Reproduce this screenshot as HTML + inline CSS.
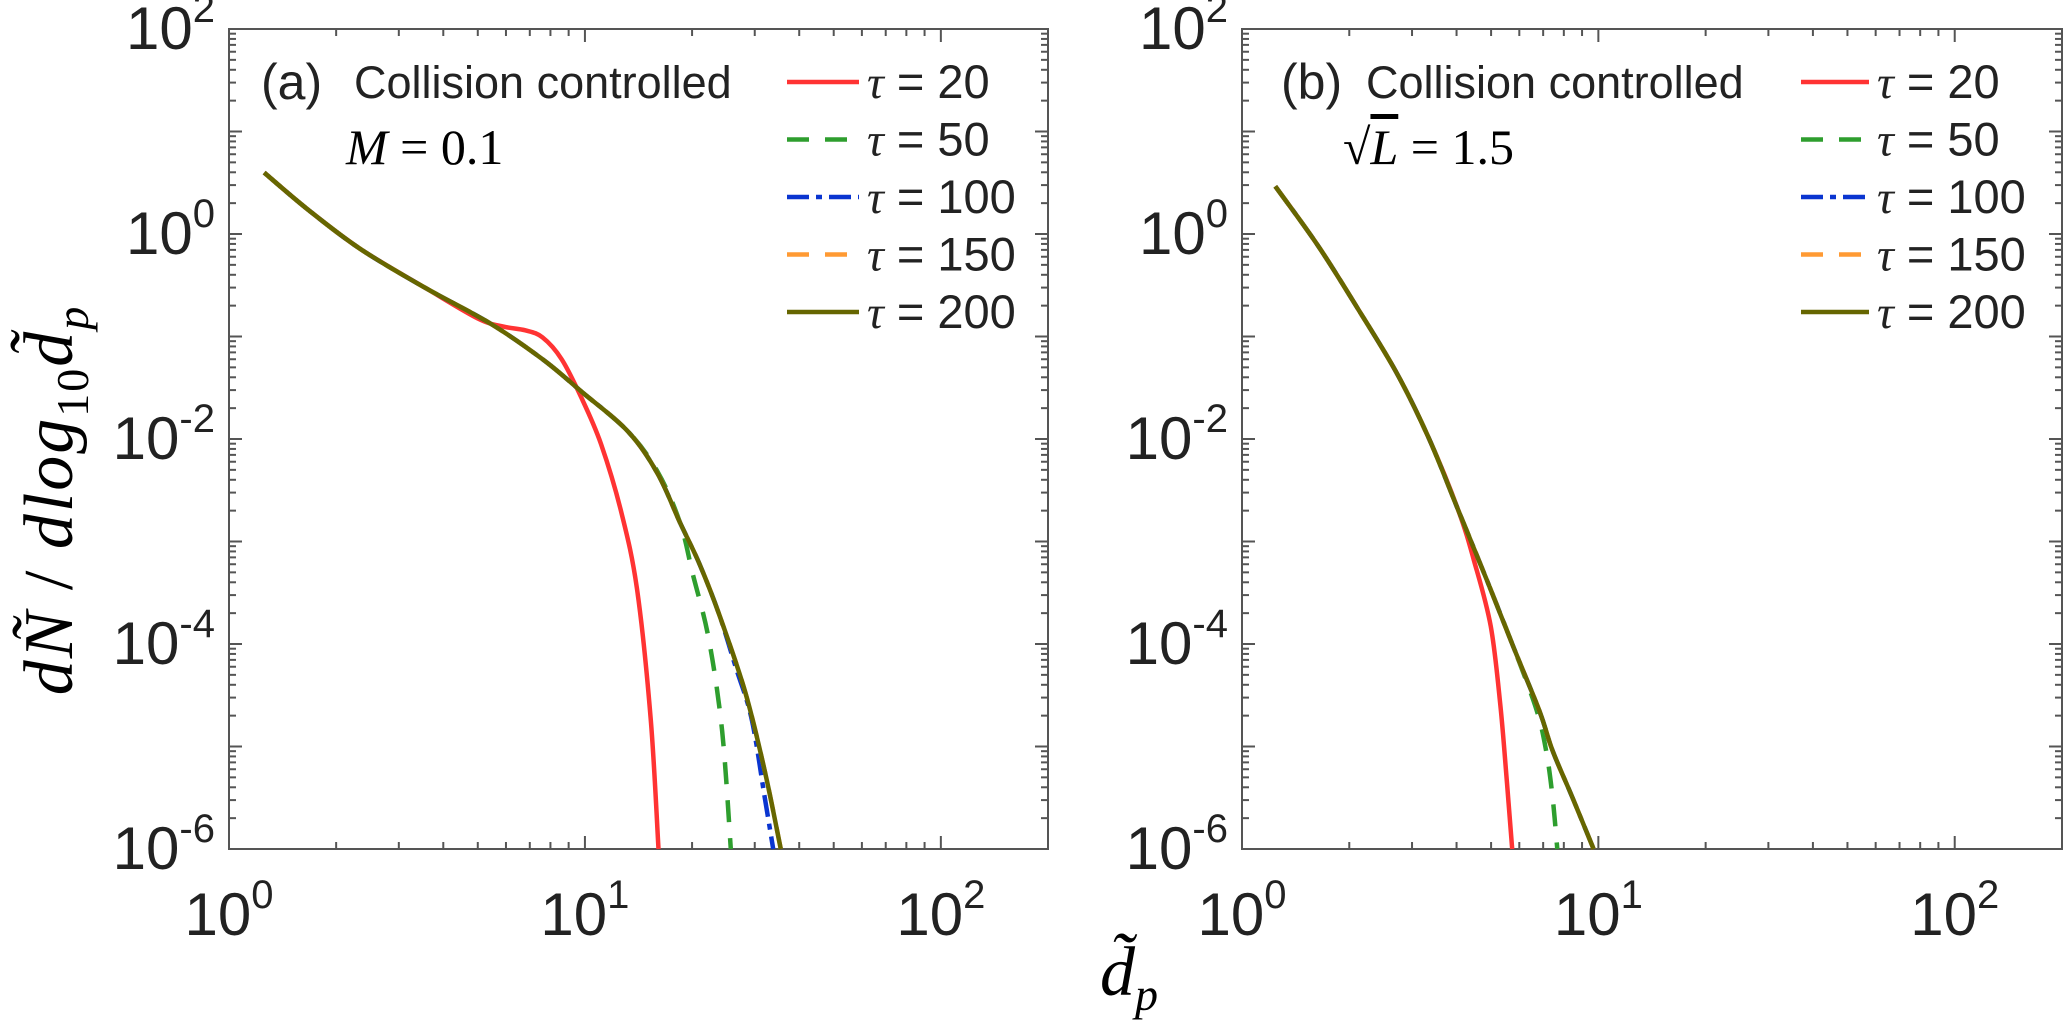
<!DOCTYPE html>
<html><head><meta charset="utf-8">
<style>
html,body{margin:0;padding:0;background:#fff;}
svg{display:block;}
text{font-family:"Liberation Sans",sans-serif;fill:#222;}
.serif{font-family:"Liberation Serif",serif;font-style:italic;fill:#000;}
</style></head>
<body>
<svg id="chart" width="2067" height="1024" viewBox="0 0 2067 1024"></svg>
<script>
// ---- data ----
const seriesNames = ["τ = 20","τ = 50","τ = 100","τ = 150","τ = 200"];
const seriesColors = ["#ff3333","#2e9e2e","#0a35d0","#ff9a33","#666600"];
const seriesDash = ["", "22,16", "22,7,6,7", "22,16", ""];
const xTickValues = [1,10,100];
const yTickValues = [100,1,0.01,0.0001,0.000001];
const xTickExp = ["0","1","2"];
const yTickExp = ["2","0","-2","-4","-6"];
// panel (a)
const a20x = [1.256,1.66,2.33,3.55,5.0,5.9,6.8,7.6,8.6,9.8,11.1,12.6,14.0,15.3,16.1];
const a20y = [3.97,1.75,0.72,0.30,0.15,0.125,0.115,0.098,0.060,0.0248,0.0089,0.00204,3.5e-4,1.86e-5,1e-6];
const a50x = [1.256,1.66,2.33,3.55,5.42,7.6,9.8,13.2,16,18.5,20.1,22.3,24.3,25.7];
const a50y = [3.97,1.75,0.72,0.30,0.134,0.060,0.0288,0.0119,0.0048,0.00153,4.8e-4,1.1e-4,1.4e-5,1e-6];
const a100x = [1.256,1.66,2.33,3.55,5.42,7.6,9.8,13.2,16,18.5,21,23.8,26.5,29.4,32,33.8];
const a100y = [3.97,1.75,0.72,0.30,0.134,0.060,0.0288,0.0119,0.0046,0.00153,6e-4,1.96e-4,6e-5,1.86e-5,3.2e-6,1e-6];
const a200x = [1.256,1.66,2.33,3.55,5.42,7.6,9.8,13.2,16,18.5,21,23.8,28.2,32,35.5];
const a200y = [3.97,1.75,0.72,0.30,0.134,0.060,0.0288,0.0119,0.0046,0.00153,6e-4,1.96e-4,3.4e-5,5.8e-6,1e-6];
// panel (b)
const b20x = [1.24,1.63,2.10,2.71,3.34,4.04,4.49,4.99,5.31,5.54,5.73];
const b20y = [2.92,0.78,0.194,0.0447,0.0103,0.00204,6.3e-4,1.48e-4,2.5e-5,4.4e-6,1e-6];
const b50x = [1.24,1.63,2.10,2.71,3.34,4.04,4.88,5.78,6.70,7.14,7.44,7.67];
const b50y = [2.92,0.78,0.194,0.0447,0.0103,0.00204,4.1e-4,9.3e-5,2.3e-5,9e-6,3.2e-6,1e-6];
const b200x = [1.24,1.63,2.10,2.71,3.34,4.04,4.88,5.78,6.84,7.44,8.45,9.7];
const b200y = [2.92,0.78,0.194,0.0447,0.0103,0.00204,4.1e-4,9.3e-5,2.2e-5,9.1e-6,3.2e-6,1e-6];

const panels = [
  {id:"a", x0:229, x1:1048, label:"(a)",
   series:[[a20x,a20y],[a50x,a50y],[a100x,a100y],[a200x,a200y],[a200x,a200y]],
   labX:261, colX:354, subX:346, legL:787, legR:859, legT:867},
  {id:"b", x0:1242, x1:2062, label:"(b)",
   series:[[b20x,b20y],[b50x,b50y],[b200x,b200y],[b200x,b200y],[b200x,b200y]],
   labX:1281, colX:1366, subX:1343, legL:1801, legR:1869, legT:1877}
];
const Y0=29, Y1=849, XMAX=Math.log10(200);
const NS="http://www.w3.org/2000/svg";
const svg=document.getElementById("chart");
function el(tag,attrs,parent){const e=document.createElementNS(NS,tag);for(const k in attrs)e.setAttribute(k,attrs[k]);(parent||svg).appendChild(e);return e;}
function smooth(pts){
  let d="M"+pts[0][0].toFixed(1)+","+pts[0][1].toFixed(1);
  for(let i=0;i<pts.length-1;i++){
    const p0=pts[Math.max(0,i-1)],p1=pts[i],p2=pts[i+1],p3=pts[Math.min(pts.length-1,i+2)];
    const c1=[p1[0]+(p2[0]-p0[0])/6,p1[1]+(p2[1]-p0[1])/6];
    const c2=[p2[0]-(p3[0]-p1[0])/6,p2[1]-(p3[1]-p1[1])/6];
    d+="C"+c1[0].toFixed(1)+","+c1[1].toFixed(1)+" "+c2[0].toFixed(1)+","+c2[1].toFixed(1)+" "+p2[0].toFixed(1)+","+p2[1].toFixed(1);
  }
  return d;
}

panels.forEach(p=>{
  const sx=v=>p.x0+Math.log10(v)/XMAX*(p.x1-p.x0);
  const sy=v=>Y0+(2-Math.log10(v))/8*(Y1-Y0);
  const g=el("g",{});
  
  
  const tk=el("g",{stroke:"#555","stroke-width":2},g);
  
  
  for(let d=0;d<3;d++)for(let m=1;m<10;m++){const v=Math.pow(10,d)*m;if(v>200)break;const x=sx(v);const L=m===1?13:7;
    el("line",{x1:x,y1:Y1,x2:x,y2:Y1-L},tk);el("line",{x1:x,y1:Y0,x2:x,y2:Y0+L},tk);}
  for(let d=-6;d<2;d++)for(let m=1;m<10;m++){const v=Math.pow(10,d)*m;const y=sy(v);const L=m===1?13:7;
    el("line",{x1:p.x0,y1:y,x2:p.x0+L,y2:y},tk);el("line",{x1:p.x1,y1:y,x2:p.x1-L,y2:y},tk);}
  const fr=el("rect",{x:p.x0,y:Y0,width:p.x1-p.x0,height:Y1-Y0,fill:"none",stroke:"#555","stroke-width":2},g);
  
  
  xTickValues.forEach((v,i)=>{const t=el("text",{x:sx(v),y:935,"text-anchor":"middle","font-size":60},g);
    
    
    t.innerHTML='10<tspan dy="-27" font-size="40">'+xTickExp[i]+'</tspan>';});
  yTickValues.forEach((v,i)=>{const t=el("text",{x:p.x0-14,y:sy(v)+20,"text-anchor":"end","font-size":60},g);
    
    
    t.innerHTML='10<tspan dy="-27" font-size="40">'+yTickExp[i]+'</tspan>';});
  p.series.forEach((s,k)=>{
    const pts=s[0].map((x,j)=>[sx(x),sy(s[1][j])]);
    const path=el("path",{d:smooth(pts),fill:"none",stroke:seriesColors[k],"stroke-width":4.5,"stroke-dasharray":seriesDash[k]},g);
    
    
  });
  const t1=el("text",{x:p.labX,y:99,"font-size":50,fill:"#000"},g);t1.textContent=p.label;
  
  
  const t2=el("text",{x:p.colX,y:98,"font-size":45,fill:"#000"},g);t2.textContent="Collision controlled";
  
  
  const t3=el("text",{x:p.subX,y:164,"font-size":50,"class":"serif"},g);
  if(p.id==="a"){t3.innerHTML='M<tspan font-style="normal"> = 0.1</tspan>';}else{t3.innerHTML='<tspan font-style="normal">√</tspan><tspan text-decoration="overline">L</tspan><tspan font-style="normal"> = 1.5</tspan>';}
  
  
  const lg=el("g",{},g);
  
  
  seriesNames.forEach((n,i)=>{const yy=82+i*57.5;
    const e=el("g",{},lg);
    
    
    el("line",{x1:p.legL,y1:yy,x2:p.legR,y2:yy,stroke:seriesColors[i],"stroke-width":4.5,"stroke-dasharray":seriesDash[i]},e);
    const t=el("text",{x:p.legT,y:yy+16,"font-size":47,fill:"#000"},e);
    t.innerHTML='<tspan font-family="Liberation Serif" font-style="italic">τ</tspan> = '+n.replace("τ = ","");});
});
const yt=el("text",{x:0,y:0,"font-size":70,"class":"serif",transform:"translate(72,500) rotate(-90)","text-anchor":"middle","letter-spacing":"2"});
yt.innerHTML='dÑ<tspan font-style="normal"> / </tspan>dlog<tspan font-style="normal" font-size="46" dy="16">10</tspan><tspan dy="-16">d̃</tspan><tspan font-size="46" dy="16">p</tspan>';


const xt=el("text",{x:1100,y:995,"font-size":70,"class":"serif"});
xt.innerHTML='d̃<tspan font-size="46" dy="15">p</tspan>';


</script>
</body></html>
